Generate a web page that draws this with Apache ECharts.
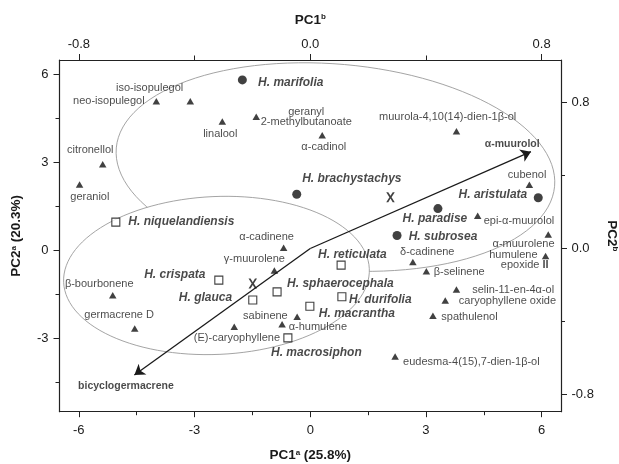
<!DOCTYPE html>
<html>
<head>
<meta charset="utf-8">
<script src="https://cdn.jsdelivr.net/npm/echarts@6/dist/echarts.min.js"></script>
<style>
  html, body { margin: 0; padding: 0; background: #fff; }
  #chart { width: 619px; height: 464px; }
</style>
</head>
<body>
<div id="chart"></div>
<script>
// species scores (PC1a / PC2a)
const circleNames = ['H. marifolia', 'H. brachystachys', 'H. paradise', 'H. aristulata', 'H. subrosea'];
const circleX = [-1.76, -0.35, 3.31, 5.91, 2.25];
const circleY = [5.82, 1.92, 1.43, 1.80, 0.51];

const squareNames = ['H. niquelandiensis', 'H. crispata', 'H. glauca', 'H. sphaerocephala',
    'H. reticulata', 'H. durifolia', 'H. macrantha', 'H. macrosiphon'];
const squareX = [-5.04, -2.37, -1.49, -0.86, 0.80, 0.82, -0.01, -0.58];
const squareY = [0.97, -1.01, -1.69, -1.41, -0.50, -1.58, -1.90, -2.98];

// group centroids (X marks)
const centroidX = [-1.49, 2.08];
const centroidY = [-1.13, 1.82];

// compound scores
const compoundNames = ['neo-isopulegol', 'iso-isopulegol', 'linalool', 'geranyl 2-methylbutanoate',
    'α-cadinol', 'citronellol', 'geraniol', 'muurola-4,10(14)-dien-1β-ol', 'cubenol',
    'epi-α-muurolol', 'α-muurolene', 'humulene epoxide II', 'δ-cadinene', 'β-selinene',
    'selin-11-en-4α-ol', 'caryophyllene oxide', 'spathulenol', 'eudesma-4(15),7-dien-1β-ol',
    'α-cadinene', 'γ-muurolene', 'β-bourbonene', 'germacrene D', '(E)-caryophyllene',
    'sabinene', 'α-humulene'];
const compoundX = [-3.99, -3.11, -2.28, -1.40, 0.31, -5.38, -5.98, 3.79, 5.68, 4.34, 6.17, 6.10,
    2.66, 3.01, 3.79, 3.50, 3.18, 2.20, -0.69, -0.93, -5.12, -4.55, -1.97, -0.34, -0.73];
const compoundY = [5.09, 5.09, 4.40, 4.56, 3.93, 2.94, 2.25, 4.07, 2.24, 1.19, 0.55, -0.19,
    -0.39, -0.71, -1.33, -1.71, -2.23, -3.62, 0.09, -0.68, -1.53, -2.66, -2.60, -2.26, -2.52];

// loadings (PC1b / PC2b), drawn as arrows from the origin
const loadingNames = ['α-muurolol', 'bicyclogermacrene'];
const loadingX = [0.763, -0.608];
const loadingY = [0.531, -0.694];

// group ellipses: centre and two conjugate semi-diameters, in PC1a/PC2a units
const ellipseCX = [0.653, -2.431];
const ellipseCY = [2.847, -0.852];
const ellipseU = [[5.681, -0.654], [3.962, 0.232]];
const ellipseV = [[0.233, 3.498], [-0.091, 2.691]];

// axes
const pc1aRange = [-6.5, 6.5];
const pc2aRange = [-5.5, 6.5];
const pc1bRange = [-0.867, 0.867];
const pc2bRange = [-0.895, 1.034];
const pc1aTicks = [-6, -3, 0, 3, 6];
const pc1aMinor = [-4.5, -1.5, 1.5, 4.5];
const pc2aTicks = [-3, 0, 3, 6];
const pc2aMinor = [-4.5, -1.5, 1.5, 4.5];
const pc1bTicks = [-0.8, 0, 0.8];
const pc1bMinor = [-0.4, 0.4];
const pc2bTicks = [-0.8, 0, 0.8];
const pc2bMinor = [-0.4, 0.4];

// label placement: [align, dx, dy] in px from the marker centre
const labelPlace = {
    'H. marifolia': ['left', 15.7, 3],
    'H. brachystachys': ['left', 5.4, -15.7],
    'H. paradise': ['center', -3, 10],
    'H. aristulata': ['right', -11, -3.3],
    'H. subrosea': ['left', 11.6, 1.3],
    'H. niquelandiensis': ['left', 12.5, 0],
    'H. crispata': ['right', -13.3, -5],
    'H. glauca': ['right', -20.6, -2],
    'H. sphaerocephala': ['left', 10, -8.3],
    'H. reticulata': ['center', 11.3, -10],
    'H. durifolia': ['left', 7, 2.7],
    'H. macrantha': ['left', 9, 7.6],
    'H. macrosiphon': ['center', 28.5, 14.4],
    'neo-isopulegol': ['right', -11.7, 0],
    'iso-isopulegol': ['center', -40.7, -13.4],
    'linalool': ['center', -2, 12.3],
    'geranyl 2-methylbutanoate': ['center', 50, -0.3],
    'α-cadinol': ['center', 1.6, 12],
    'citronellol': ['center', -12.5, -14.7],
    'geraniol': ['center', 10.3, 12.3],
    'muurola-4,10(14)-dien-1β-ol': ['center', -8.8, -14],
    'cubenol': ['center', -2.3, -10.3],
    'epi-α-muurolol': ['left', 6, 5],
    'α-muurolene': ['right', 6.3, 10],
    'humulene epoxide II': ['right', 3, 4],
    'δ-cadinene': ['center', 14.4, -10],
    'β-selinene': ['left', 7.3, 1],
    'selin-11-en-4α-ol': ['left', 15.7, 0.7],
    'caryophyllene oxide': ['left', 13.6, 0.7],
    'spathulenol': ['left', 8.4, 0.7],
    'eudesma-4(15),7-dien-1β-ol': ['left', 8, 5],
    'α-cadinene': ['center', -17, -10.6],
    'γ-muurolene': ['center', -20, -11.7],
    'β-bourbonene': ['center', -13.5, -11],
    'germacrene D': ['center', -15.6, -13.3],
    '(E)-caryophyllene': ['center', 2.7, 11.7],
    'sabinene': ['right', -9.4, -1],
    'α-humulene': ['left', 6.6, 2.3],
    'α-muurolol': ['center', -18.7, -7.4],
    'bicyclogermacrene': ['center', -8.5, 10.7]
};

const FONT = '"Liberation Sans", Arial, sans-serif';
const INK = '#1a1a1a';

const speciesFont = { fontFamily: FONT, fontSize: 12, fontWeight: 'bold', fontStyle: 'italic', color: INK };
const compoundFont = { fontFamily: FONT, fontSize: 11, color: INK, lineHeight: 10 };
const loadingFont = { fontFamily: FONT, fontSize: 10.5, fontWeight: 'bold', color: INK };

function labelFor(name, font) {
    const p = labelPlace[name];
    const lbl = Object.assign({
        show: true,
        position: 'inside',
        align: p[0],
        verticalAlign: 'middle',
        offset: [p[1], p[2]],
        formatter: name
    }, font);
    if (name == 'geranyl 2-methylbutanoate') {
        lbl.formatter = 'geranyl\n2-methylbutanoate';
    }
    if (name == 'humulene epoxide II') {
        lbl.formatter = '{h|humulene}\n{e|epoxide }{b|II}';
        lbl.rich = {
            h: { fontFamily: FONT, fontSize: 11, color: INK, lineHeight: 10, padding: [0, 11, 0, 0] },
            e: { fontFamily: FONT, fontSize: 11, color: INK, lineHeight: 10 },
            b: { fontFamily: FONT, fontSize: 11, color: INK, lineHeight: 10, fontWeight: 'bold' }
        };
    }
    return lbl;
}

function points(names, xs, ys, font) {
    return names.map((n, i) => ({ name: n, value: [xs[i], ys[i]], label: labelFor(n, font) }));
}

const ellipseFill = ['none', '#fff'];

function renderEllipse(params, api) {
    const cx = api.value(0), cy = api.value(1);
    const ux = api.value(2), uy = api.value(3), vx = api.value(4), vy = api.value(5);
    const pts = [];
    for (let k = 0; k <= 120; k++) {
        const t = k / 120 * Math.PI * 2;
        pts.push(api.coord([cx + ux * Math.cos(t) + vx * Math.sin(t),
                            cy + uy * Math.cos(t) + vy * Math.sin(t)]));
    }
    return {
        type: 'polygon',
        shape: { points: pts },
        style: { fill: ellipseFill[params.dataIndex], stroke: '#9a9a9a', lineWidth: 0.9 }
    };
}

function supName(main, sup, rest) {
    return '{t|' + main + '}{s|' + sup + '}' + (rest ? '{t|' + rest + '}' : '');
}
const nameStyle = {
    fontFamily: FONT, fontSize: 13.5, fontWeight: 'bold', color: INK,
    rich: {
        t: { fontFamily: FONT, fontSize: 13.5, fontWeight: 'bold', color: INK },
        s: { fontFamily: FONT, fontSize: 8, fontWeight: 'bold', color: INK, verticalAlign: 'top' }
    }
};
const tickLabel = { fontFamily: FONT, fontSize: 13, color: INK };
const frameLine = { show: true, onZero: false, lineStyle: { color: '#222', width: 1.2 } };

function majorAxis(range, ticks, fmt, extra) {
    return Object.assign({
        type: 'value',
        min: range[0],
        max: range[1],
        axisLine: frameLine,
        axisTick: { show: true, inside: false, length: 6, customValues: ticks, lineStyle: { color: '#222', width: 1 } },
        axisLabel: Object.assign({ show: true, customValues: ticks, formatter: fmt }, tickLabel),
        splitLine: { show: false }
    }, extra);
}

function minorAxis(range, ticks, position, len) {
    return {
        type: 'value',
        position: position,
        min: range[0],
        max: range[1],
        axisLine: { show: false, onZero: false },
        axisTick: { show: true, inside: false, length: len, customValues: ticks, lineStyle: { color: '#222', width: 1 } },
        axisLabel: { show: false },
        splitLine: { show: false }
    };
}

const intFmt = v => String(v);
const decFmt = v => v.toFixed(1);

option = {
    animation: false,
    backgroundColor: '#fff',
    grid: { left: 59.5, right: 58, top: 60, bottom: 52.3, containLabel: false, outerBoundsMode: 'none' },
    xAxis: [
        majorAxis(pc1aRange, pc1aTicks, intFmt, {
            position: 'bottom', name: supName('PC1', 'a', ' (25.8%)'), nameLocation: 'middle',
            nameGap: 37, nameTextStyle: nameStyle, axisLabel: Object.assign({ customValues: pc1aTicks, formatter: intFmt, margin: 12 }, tickLabel),
            axisTick: { show: true, length: 5.5, customValues: pc1aTicks, lineStyle: { color: '#222' } }
        }),
        minorAxis(pc1aRange, pc1aMinor, 'bottom', 3.5),
        majorAxis(pc1bRange, pc1bTicks, decFmt, {
            position: 'top', name: supName('PC1', 'b'), nameLocation: 'middle',
            nameGap: 33, nameTextStyle: nameStyle, axisLabel: Object.assign({ customValues: pc1bTicks, formatter: decFmt, margin: 9 }, tickLabel)
        }),
        minorAxis(pc1bRange, pc1bMinor, 'top', 4.5)
    ],
    yAxis: [
        majorAxis(pc2aRange, pc2aTicks, intFmt, {
            position: 'left', name: supName('PC2', 'a', ' (20.3%)'), nameLocation: 'middle',
            nameGap: 36, nameTextStyle: nameStyle, axisLabel: Object.assign({ customValues: pc2aTicks, formatter: intFmt, margin: 11 }, tickLabel)
        }),
        minorAxis(pc2aRange, pc2aMinor, 'left', 4),
        majorAxis(pc2bRange, pc2bTicks, decFmt, {
            position: 'right', name: supName('PC2', 'b'), nameLocation: 'middle', nameRotate: -90,
            nameGap: 44, nameTextStyle: nameStyle, axisLabel: Object.assign({ customValues: pc2bTicks, formatter: decFmt, margin: 10.5 }, tickLabel)
        }),
        minorAxis(pc2bRange, pc2bMinor, 'right', 4)
    ],
    series: [
        {
            type: 'custom',
            xAxisIndex: 0,
            yAxisIndex: 0,
            z: 1,
            silent: true,
            renderItem: renderEllipse,
            encode: { x: 0, y: 1 },
            data: ellipseCX.map((c, i) => [c, ellipseCY[i], ellipseU[i][0], ellipseU[i][1], ellipseV[i][0], ellipseV[i][1]])
        },
        {
            type: 'lines',
            coordinateSystem: 'cartesian2d',
            xAxisIndex: 2,
            yAxisIndex: 2,
            z: 3,
            silent: true,
            symbol: ['none', 'arrow'],
            symbolSize: 10,
            lineStyle: { color: '#1a1a1a', width: 1.3, opacity: 1 },
            data: loadingX.map((x, i) => ({ coords: [[0, 0], [x, loadingY[i]]] }))
        },
        {
            type: 'scatter',
            xAxisIndex: 2,
            yAxisIndex: 2,
            z: 4,
            silent: true,
            symbol: 'circle',
            symbolSize: 1,
            itemStyle: { color: 'rgba(0,0,0,0)' },
            data: points(loadingNames, loadingX, loadingY, loadingFont)
        },
        {
            type: 'scatter',
            xAxisIndex: 0,
            yAxisIndex: 0,
            z: 5,
            silent: true,
            symbol: 'triangle',
            symbolSize: [7.5, 6.5],
            itemStyle: { color: '#111' },
            data: points(compoundNames, compoundX, compoundY, compoundFont)
        },
        {
            type: 'scatter',
            xAxisIndex: 0,
            yAxisIndex: 0,
            z: 5,
            silent: true,
            symbol: 'circle',
            symbolSize: 9,
            itemStyle: { color: '#111' },
            data: points(circleNames, circleX, circleY, speciesFont)
        },
        {
            type: 'scatter',
            xAxisIndex: 0,
            yAxisIndex: 0,
            z: 5,
            silent: true,
            symbol: 'rect',
            symbolSize: 8,
            itemStyle: { color: '#fff', borderColor: '#111', borderWidth: 1.1 },
            data: points(squareNames, squareX, squareY, speciesFont)
        },
        {
            type: 'scatter',
            xAxisIndex: 0,
            yAxisIndex: 0,
            z: 5,
            silent: true,
            symbol: 'path://M0,0L2.4,0L5,3.6L7.6,0L10,0L6.3,5L10,10L7.6,10L5,6.4L2.4,10L0,10L3.7,5Z',
            symbolSize: [8.5, 10],
            itemStyle: { color: '#111' },
            data: centroidX.map((x, i) => [x, centroidY[i]])
        }
    ]
};

chart = echarts.init(document.getElementById('chart'));
chart.setOption(option);
</script>
</body>
</html>
